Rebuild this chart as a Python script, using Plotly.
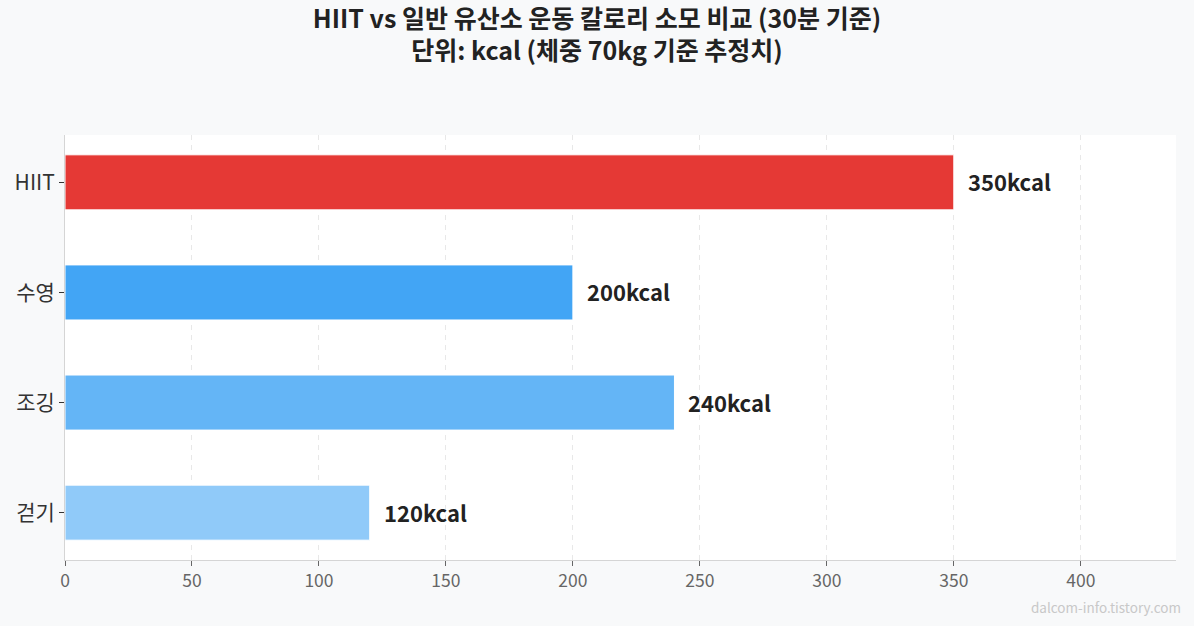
import plotly.graph_objects as go

categories = ["걷기", "조깅", "수영", "HIIT"]
calories = [120, 240, 200, 350]
bar_colors = ["#90CAF9", "#64B5F6", "#42A5F5", "#E53935"]
x_ticks = [0, 50, 100, 150, 200, 250, 300, 350, 400]

FONT = "Noto Sans CJK KR"

fig = go.Figure()
fig.add_trace(go.Bar(
    y=categories, x=calories, orientation="h", width=0.5,
    marker=dict(color=bar_colors, line=dict(color="white", width=1)),
    hoverinfo="skip",
))

for c, v in zip(categories, calories):
    fig.add_annotation(x=v, y=c, text=f"<b>{v}kcal</b>", showarrow=False,
                       xanchor="left", xshift=12, yshift=1,
                       font=dict(family=FONT, size=22, color="#222222"))

fig.add_annotation(xref="paper", yref="paper", x=1.006, y=-0.11,
                   text="dalcom-info.tistory.com", showarrow=False,
                   xanchor="right", yanchor="middle",
                   font=dict(family=FONT, size=13.5, color="#C8C8C8"))

fig.update_layout(
    width=1194, height=626,
    paper_bgcolor="#F8F9FA", plot_bgcolor="#FFFFFF",
    margin=dict(l=65, r=18, t=135, b=66),
    showlegend=False,
    title=dict(text="<b>HIIT vs 일반 유산소 운동 칼로리 소모 비교 (30분 기준)<br>단위: kcal (체중 70kg 기준 추정치)</b>",
               x=0.5, xanchor="center", y=0.956, yanchor="top",
               font=dict(family=FONT, size=25, color="#222222")),
    font=dict(family=FONT),
    xaxis=dict(range=[0, 437.5], tickvals=x_ticks, showgrid=True,
               gridcolor="#E8E8E8", griddash="5px,5px", gridwidth=1,
               showline=True, linecolor="#D5D5D5", linewidth=1,
               ticks="outside", ticklen=5, tickcolor="#666666",
               tickfont=dict(family=FONT, size=17.5, color="#666666"),
               zeroline=False, mirror=False),
    yaxis=dict(categoryorder="array", categoryarray=categories,
               range=[-0.43, 3.43], showgrid=False,
               showline=True, linecolor="#D5D5D5", linewidth=1,
               ticks="outside", ticklen=5, tickcolor="#333333",
               tickfont=dict(family=FONT, size=21, color="#333333"),
               zeroline=False),
)

fig.write_html("out.html")
